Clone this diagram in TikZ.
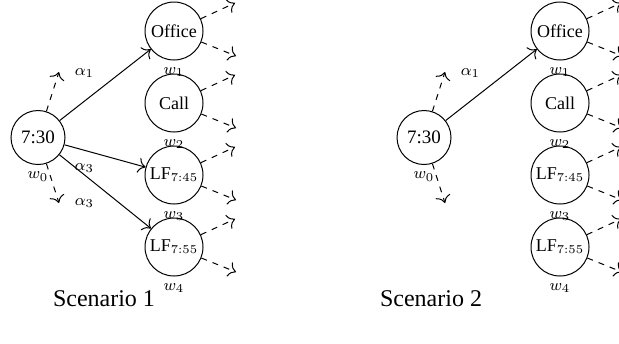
\documentclass[tikz,border=0pt]{standalone}
\usepackage{fontspec}
\setmainfont{Liberation Serif}
\usetikzlibrary{calc,arrows.meta}
\begin{document}
\begin{tikzpicture}[x=0.5pt,y=-0.5pt,
  >={To[scale=1.35]},
  st/.style={circle, draw, line width=0.5pt, minimum size=29pt, inner sep=0pt,
    font=\fontsize{9}{10}\selectfont, label distance=-1.5pt},
  stz/.style={st, minimum size=27pt, font=\fontsize{9.5}{10}\selectfont},
  lab/.style={font=\fontsize{8.5}{10}\selectfont},
  arr/.style={->, line width=0.5pt},
  darr/.style={->, dashed, line width=0.5pt},
  captxt/.style={font=\fontsize{12}{14}\selectfont, anchor=base, inner sep=0pt}]
\useasboundingbox (0,0) rectangle (619,343);
\clip (0,0) rectangle (619,343);
% ---------------- Scenario 1
\node[stz, label={[lab]below:$w_0$}] (a0) at (38,137.5) {7:30};
\node[st, label={[lab]below:$w_1$}] (a1) at (174,31) {Office};
\node[st, label={[lab]below:$w_2$}] (a2) at (174,103) {Call};
\node[st, label={[lab]below:$w_3$}] (a3) at (174,175) {LF$_{7{:}45}$};
\node[st, label={[lab]below:$w_4$}] (a4) at (174,247) {LF$_{7{:}55}$};
\draw[arr] (a0) -- node[lab, midway, above left, xshift=-2pt] {$\alpha_1$} (a1);
\draw[arr] (a0) -- node[lab, midway, below left, xshift=-2pt] {$\alpha_3$} (a3);
\draw[arr] (a0) -- node[lab, midway, below left, xshift=-2pt] {$\alpha_3$} (a4);
\coordinate (a0u) at ($(a0)+(21,-65.5)$);
\coordinate (a0d) at ($(a0)+(21,65.5)$);
\draw[darr] (a0) -- (a0u);
\draw[darr] (a0) -- (a0d);
\foreach \n in {a1,a2,a3,a4}{
  \coordinate (\n u) at ($(\n)+(61,-28)$);
  \coordinate (\n d) at ($(\n)+(62,25)$);
  \draw[darr] (\n) -- (\n u);
  \draw[darr] (\n) -- (\n d);
}
\node[captxt] (c1) at (104,306.5) {Scenario 1};
% ---------------- Scenario 2
\node[stz, label={[lab]below:$w_0$}] (b0) at (424,137.5) {7:30};
\node[st, label={[lab]below:$w_1$}] (b1) at (560,31) {Office};
\node[st, label={[lab]below:$w_2$}] (b2) at (560,103) {Call};
\node[st, label={[lab]below:$w_3$}] (b3) at (560,175) {LF$_{7{:}45}$};
\node[st, label={[lab]below:$w_4$}] (b4) at (560,247) {LF$_{7{:}55}$};
\draw[arr] (b0) -- node[lab, midway, above left, xshift=-2pt] {$\alpha_1$} (b1);
\coordinate (b0u) at ($(b0)+(21,-65.5)$);
\coordinate (b0d) at ($(b0)+(21,65.5)$);
\draw[darr] (b0) -- (b0u);
\draw[darr] (b0) -- (b0d);
\foreach \n in {b1,b2,b3,b4}{
  \coordinate (\n u) at ($(\n)+(61,-28)$);
  \coordinate (\n d) at ($(\n)+(62,25)$);
  \draw[darr] (\n) -- (\n u);
  \draw[darr] (\n) -- (\n d);
}
\node[captxt] (c2) at (431,306.5) {Scenario 2};
\end{tikzpicture}
\end{document}
